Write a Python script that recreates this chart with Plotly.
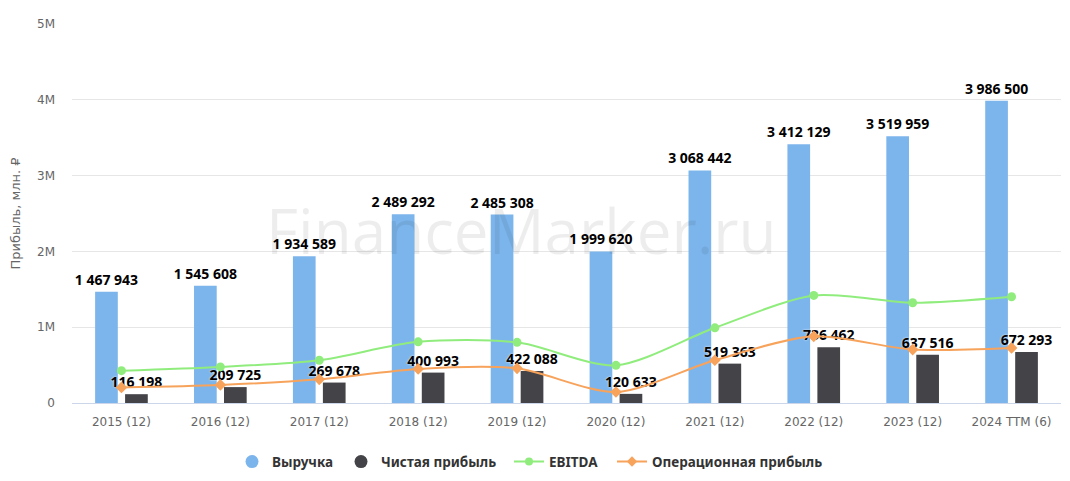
import plotly.graph_objects as go

# данные с графика (млн. ₽)
periods = ["2015 (12)", "2016 (12)", "2017 (12)", "2018 (12)", "2019 (12)",
           "2020 (12)", "2021 (12)", "2022 (12)", "2023 (12)", "2024 TTM (6)"]
revenue = [1467943, 1545608, 1934589, 2489292, 2485308,
           1999620, 3068442, 3412129, 3519959, 3986500]
net_profit = [116198, 209725, 269678, 400993, 422088,
              120633, 519363, 736462, 637516, 672293]
ebitda = [427000, 476000, 564000, 807000, 800000,
          497000, 992000, 1419000, 1323000, 1402000]
op_profit = [206000, 238000, 312000, 450000, 457000,
             145000, 564000, 880000, 705000, 727000]

y_ticks = [0, 1000000, 2000000, 3000000, 4000000, 5000000]
y_ticktext = ["0", "1M", "2M", "3M", "4M", "5M"]


def fmt(v):
    return f"{v:,}".replace(",", " ")


FONT = "DejaVu Sans"
LBL_FONT = "Noto Sans"
label_font = dict(family=LBL_FONT, size=14, color="#000000", weight="bold",
                  shadow="0px 0px 2px #ffffff")

fig = go.Figure()
fig.add_trace(go.Bar(name="Выручка", x=periods, y=revenue,
                     marker_color="#7cb5ec", marker_line_width=0,
                     text=[fmt(v) for v in revenue], textposition="outside",
                     textfont=label_font, constraintext="none",
                     cliponaxis=False, showlegend=False))
fig.add_trace(go.Bar(name="Чистая прибыль", x=periods, y=net_profit,
                     marker_color="#434348", marker_line_width=0,
                     text=[fmt(v) for v in net_profit], textposition="outside",
                     textfont=label_font, constraintext="none",
                     cliponaxis=False, showlegend=False))
fig.add_trace(go.Scatter(name="EBITDA", x=periods, y=ebitda, mode="lines+markers",
                         line=dict(color="#90ed7d", width=2, shape="spline", smoothing=0.8),
                         marker=dict(symbol="circle", size=9, color="#90ed7d"),
                         showlegend=False))
fig.add_trace(go.Scatter(name="Операционная прибыль", x=periods, y=op_profit,
                         mode="lines+markers",
                         line=dict(color="#f7a35c", width=2, shape="spline", smoothing=0.8),
                         marker=dict(symbol="diamond", size=9, color="#f7a35c"),
                         showlegend=False))

# legend-only entries, one legend each so the spacing matches
legend_items = [
    ("Выручка", "legend", dict(mode="markers",
                               marker=dict(symbol="circle", size=13, color="#7cb5ec"))),
    ("Чистая прибыль", "legend2", dict(mode="markers",
                                       marker=dict(symbol="circle", size=13, color="#434348"))),
    ("EBITDA", "legend3", dict(mode="lines+markers", line=dict(color="#90ed7d", width=2),
                               marker=dict(symbol="circle", size=8, color="#90ed7d"))),
    ("Операционная прибыль", "legend4", dict(mode="lines+markers",
                                             line=dict(color="#f7a35c", width=2),
                                             marker=dict(symbol="diamond", size=8,
                                                         color="#f7a35c"))),
]
for name, leg, style in legend_items:
    fig.add_trace(go.Scatter(name=name, x=[None], y=[None], legend=leg, **style))

fig.add_annotation(text="FinanceMarker.ru", xref="paper", yref="paper",
                   x=0.455, y=0.457, showarrow=False,
                   font=dict(family="Open Sans", size=62, color="rgba(0,0,0,0.07)"))

leg_font = dict(family=LBL_FONT, size=13.5, color="#333333", weight="bold")
leg_x = [232, 341, 509, 612]   # left edges, px
leg_common = dict(orientation="h", xref="container", yref="container",
                  y=0.04, yanchor="middle", xanchor="left", font=leg_font,
                  itemsizing="trace", bgcolor="rgba(0,0,0,0)")

fig.update_layout(
    width=1070, height=481,
    margin=dict(l=72, r=9, t=24, b=78, autoexpand=False),
    paper_bgcolor="white", plot_bgcolor="white",
    barmode="group", bargap=0.394, bargroupgap=0.243,
    font=dict(family=FONT, size=12, color="#666666"),
    legend=dict(x=leg_x[0] / 1070, **leg_common),
    legend2=dict(x=leg_x[1] / 1070, **leg_common),
    legend3=dict(x=leg_x[2] / 1070, **leg_common),
    legend4=dict(x=leg_x[3] / 1070, **leg_common),
    xaxis=dict(range=[-0.5, len(periods) - 0.5], showgrid=False, showline=True,
               linecolor="#ccd6eb", linewidth=1,
               ticks="", automargin=False, ticklabelstandoff=8,
               tickfont=dict(size=12, color="#666666")),
    yaxis=dict(range=[0, 5000000], tickvals=y_ticks, ticktext=y_ticktext,
               showgrid=True, gridcolor="#e6e6e6", zeroline=False,
               automargin=False, ticklabelstandoff=16,
               tickfont=dict(size=12, color="#666666"),
               title=dict(text="Прибыль, млн. ₽", standoff=13,
                          font=dict(size=13, color="#666666"))),
)

fig.write_html("out.html", config={"displayModeBar": False},
               post_script="document.body.style.margin = '0';")
